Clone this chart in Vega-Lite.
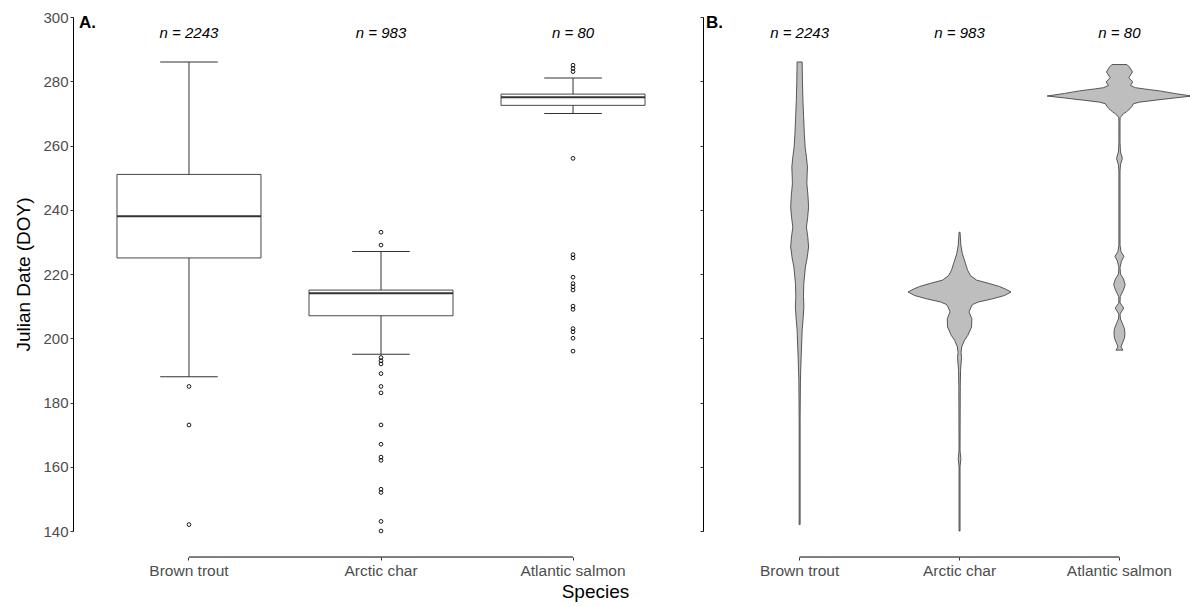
{
  "$schema": "https://vega.github.io/schema/vega-lite/v6.json",
  "padding": {"left": 14, "top": 10, "right": 0, "bottom": 0},
  "background": "white",
  "title": {"text": "Species", "orient": "bottom", "anchor": "middle", "fontSize": 19, "fontWeight": "normal", "color": "black", "offset": 4, "dx": -20, "font": "Liberation Sans"},
  "config": {"view": {"stroke": null}, "font": "Liberation Sans"},
  "spacing": 10,
  "datasets": {
    "boxes": [
      {"species": "Brown trout", "lower": 188, "q1": 225, "median": 238, "q3": 251, "upper": 286},
      {"species": "Arctic char", "lower": 195, "q1": 207, "median": 214, "q3": 215, "upper": 227},
      {"species": "Atlantic salmon", "lower": 270, "q1": 272.5, "median": 275, "q3": 276, "upper": 281}
    ],
    "outliers": [
      {"species": "Brown trout", "doy": 185}, {"species": "Brown trout", "doy": 173}, {"species": "Brown trout", "doy": 142},
      {"species": "Arctic char", "doy": 233}, {"species": "Arctic char", "doy": 229}, {"species": "Arctic char", "doy": 194},
      {"species": "Arctic char", "doy": 193}, {"species": "Arctic char", "doy": 192}, {"species": "Arctic char", "doy": 189},
      {"species": "Arctic char", "doy": 185}, {"species": "Arctic char", "doy": 183}, {"species": "Arctic char", "doy": 173},
      {"species": "Arctic char", "doy": 167}, {"species": "Arctic char", "doy": 163}, {"species": "Arctic char", "doy": 162},
      {"species": "Arctic char", "doy": 153}, {"species": "Arctic char", "doy": 152}, {"species": "Arctic char", "doy": 143},
      {"species": "Arctic char", "doy": 140},
      {"species": "Atlantic salmon", "doy": 285}, {"species": "Atlantic salmon", "doy": 284}, {"species": "Atlantic salmon", "doy": 283},
      {"species": "Atlantic salmon", "doy": 256}, {"species": "Atlantic salmon", "doy": 226}, {"species": "Atlantic salmon", "doy": 225},
      {"species": "Atlantic salmon", "doy": 219}, {"species": "Atlantic salmon", "doy": 217}, {"species": "Atlantic salmon", "doy": 216},
      {"species": "Atlantic salmon", "doy": 215}, {"species": "Atlantic salmon", "doy": 210}, {"species": "Atlantic salmon", "doy": 209},
      {"species": "Atlantic salmon", "doy": 203}, {"species": "Atlantic salmon", "doy": 202}, {"species": "Atlantic salmon", "doy": 200},
      {"species": "Atlantic salmon", "doy": 196}
    ],
    "counts": [
      {"species": "Brown trout", "label": "n = 2243"},
      {"species": "Arctic char", "label": "n = 983"},
      {"species": "Atlantic salmon", "label": "n = 80"}
    ],
    "violin": [
      {"species": "Brown trout", "doy": 142, "density": 0.007},
      {"species": "Brown trout", "doy": 175, "density": 0.007},
      {"species": "Brown trout", "doy": 187, "density": 0.011},
      {"species": "Brown trout", "doy": 194, "density": 0.021},
      {"species": "Brown trout", "doy": 202.5, "density": 0.035},
      {"species": "Brown trout", "doy": 206, "density": 0.048},
      {"species": "Brown trout", "doy": 209.7, "density": 0.059},
      {"species": "Brown trout", "doy": 213, "density": 0.053},
      {"species": "Brown trout", "doy": 217, "density": 0.058},
      {"species": "Brown trout", "doy": 222.2, "density": 0.08},
      {"species": "Brown trout", "doy": 225, "density": 0.104},
      {"species": "Brown trout", "doy": 228.4, "density": 0.124},
      {"species": "Brown trout", "doy": 231.5, "density": 0.113},
      {"species": "Brown trout", "doy": 234.6, "density": 0.094},
      {"species": "Brown trout", "doy": 237.5, "density": 0.111},
      {"species": "Brown trout", "doy": 240.9, "density": 0.124},
      {"species": "Brown trout", "doy": 244.5, "density": 0.115},
      {"species": "Brown trout", "doy": 248.1, "density": 0.1},
      {"species": "Brown trout", "doy": 251, "density": 0.104},
      {"species": "Brown trout", "doy": 253.3, "density": 0.108},
      {"species": "Brown trout", "doy": 256.5, "density": 0.094},
      {"species": "Brown trout", "doy": 259.5, "density": 0.076},
      {"species": "Brown trout", "doy": 263.7, "density": 0.065},
      {"species": "Brown trout", "doy": 269, "density": 0.055},
      {"species": "Brown trout", "doy": 274, "density": 0.046},
      {"species": "Brown trout", "doy": 280, "density": 0.039},
      {"species": "Brown trout", "doy": 286, "density": 0.035},
      {"species": "Brown trout", "doy": 286, "density": -0.035},
      {"species": "Brown trout", "doy": 280, "density": -0.039},
      {"species": "Brown trout", "doy": 274, "density": -0.046},
      {"species": "Brown trout", "doy": 269, "density": -0.055},
      {"species": "Brown trout", "doy": 263.7, "density": -0.065},
      {"species": "Brown trout", "doy": 259.5, "density": -0.076},
      {"species": "Brown trout", "doy": 256.5, "density": -0.094},
      {"species": "Brown trout", "doy": 253.3, "density": -0.108},
      {"species": "Brown trout", "doy": 251, "density": -0.104},
      {"species": "Brown trout", "doy": 248.1, "density": -0.1},
      {"species": "Brown trout", "doy": 244.5, "density": -0.115},
      {"species": "Brown trout", "doy": 240.9, "density": -0.124},
      {"species": "Brown trout", "doy": 237.5, "density": -0.111},
      {"species": "Brown trout", "doy": 234.6, "density": -0.094},
      {"species": "Brown trout", "doy": 231.5, "density": -0.113},
      {"species": "Brown trout", "doy": 228.4, "density": -0.124},
      {"species": "Brown trout", "doy": 225, "density": -0.104},
      {"species": "Brown trout", "doy": 222.2, "density": -0.08},
      {"species": "Brown trout", "doy": 217, "density": -0.058},
      {"species": "Brown trout", "doy": 213, "density": -0.053},
      {"species": "Brown trout", "doy": 209.7, "density": -0.059},
      {"species": "Brown trout", "doy": 206, "density": -0.048},
      {"species": "Brown trout", "doy": 202.5, "density": -0.035},
      {"species": "Brown trout", "doy": 194, "density": -0.021},
      {"species": "Brown trout", "doy": 187, "density": -0.011},
      {"species": "Brown trout", "doy": 175, "density": -0.007},
      {"species": "Brown trout", "doy": 142, "density": -0.007},
      {"species": "Brown trout", "doy": 142, "density": 0.007},

      {"species": "Arctic char", "doy": 140, "density": 0.007},
      {"species": "Arctic char", "doy": 160, "density": 0.007},
      {"species": "Arctic char", "doy": 162.5, "density": 0.018},
      {"species": "Arctic char", "doy": 165, "density": 0.007},
      {"species": "Arctic char", "doy": 185, "density": 0.01},
      {"species": "Arctic char", "doy": 190, "density": 0.014},
      {"species": "Arctic char", "doy": 194, "density": 0.028},
      {"species": "Arctic char", "doy": 195.5, "density": 0.021},
      {"species": "Arctic char", "doy": 197.3, "density": 0.03},
      {"species": "Arctic char", "doy": 199.4, "density": 0.069},
      {"species": "Arctic char", "doy": 200.9, "density": 0.115},
      {"species": "Arctic char", "doy": 203.5, "density": 0.166},
      {"species": "Arctic char", "doy": 206.1, "density": 0.17},
      {"species": "Arctic char", "doy": 208.2, "density": 0.131},
      {"species": "Arctic char", "doy": 209.7, "density": 0.159},
      {"species": "Arctic char", "doy": 210.5, "density": 0.18},
      {"species": "Arctic char", "doy": 211.3, "density": 0.263},
      {"species": "Arctic char", "doy": 212.2, "density": 0.443},
      {"species": "Arctic char", "doy": 213.3, "density": 0.622},
      {"species": "Arctic char", "doy": 214.4, "density": 0.712},
      {"species": "Arctic char", "doy": 215.3, "density": 0.636},
      {"species": "Arctic char", "doy": 216.1, "density": 0.553},
      {"species": "Arctic char", "doy": 217.1, "density": 0.401},
      {"species": "Arctic char", "doy": 218.1, "density": 0.235},
      {"species": "Arctic char", "doy": 219.5, "density": 0.152},
      {"species": "Arctic char", "doy": 221.2, "density": 0.111},
      {"species": "Arctic char", "doy": 223.2, "density": 0.083},
      {"species": "Arctic char", "doy": 226.3, "density": 0.039},
      {"species": "Arctic char", "doy": 229, "density": 0.018},
      {"species": "Arctic char", "doy": 233, "density": 0.007},
      {"species": "Arctic char", "doy": 233, "density": -0.007},
      {"species": "Arctic char", "doy": 229, "density": -0.018},
      {"species": "Arctic char", "doy": 226.3, "density": -0.039},
      {"species": "Arctic char", "doy": 223.2, "density": -0.083},
      {"species": "Arctic char", "doy": 221.2, "density": -0.111},
      {"species": "Arctic char", "doy": 219.5, "density": -0.152},
      {"species": "Arctic char", "doy": 218.1, "density": -0.235},
      {"species": "Arctic char", "doy": 217.1, "density": -0.401},
      {"species": "Arctic char", "doy": 216.1, "density": -0.553},
      {"species": "Arctic char", "doy": 215.3, "density": -0.636},
      {"species": "Arctic char", "doy": 214.4, "density": -0.712},
      {"species": "Arctic char", "doy": 213.3, "density": -0.622},
      {"species": "Arctic char", "doy": 212.2, "density": -0.443},
      {"species": "Arctic char", "doy": 211.3, "density": -0.263},
      {"species": "Arctic char", "doy": 210.5, "density": -0.18},
      {"species": "Arctic char", "doy": 209.7, "density": -0.159},
      {"species": "Arctic char", "doy": 208.2, "density": -0.131},
      {"species": "Arctic char", "doy": 206.1, "density": -0.17},
      {"species": "Arctic char", "doy": 203.5, "density": -0.166},
      {"species": "Arctic char", "doy": 200.9, "density": -0.115},
      {"species": "Arctic char", "doy": 199.4, "density": -0.069},
      {"species": "Arctic char", "doy": 197.3, "density": -0.03},
      {"species": "Arctic char", "doy": 195.5, "density": -0.021},
      {"species": "Arctic char", "doy": 194, "density": -0.028},
      {"species": "Arctic char", "doy": 190, "density": -0.014},
      {"species": "Arctic char", "doy": 185, "density": -0.01},
      {"species": "Arctic char", "doy": 165, "density": -0.007},
      {"species": "Arctic char", "doy": 162.5, "density": -0.018},
      {"species": "Arctic char", "doy": 160, "density": -0.007},
      {"species": "Arctic char", "doy": 140, "density": -0.007},
      {"species": "Arctic char", "doy": 140, "density": 0.007},

      {"species": "Atlantic salmon", "doy": 196.3, "density": 0.048},
      {"species": "Atlantic salmon", "doy": 197.3, "density": 0.021},
      {"species": "Atlantic salmon", "doy": 198.5, "density": 0.041},
      {"species": "Atlantic salmon", "doy": 200, "density": 0.069},
      {"species": "Atlantic salmon", "doy": 201.5, "density": 0.076},
      {"species": "Atlantic salmon", "doy": 203, "density": 0.069},
      {"species": "Atlantic salmon", "doy": 204.6, "density": 0.041},
      {"species": "Atlantic salmon", "doy": 206, "density": 0.014},
      {"species": "Atlantic salmon", "doy": 207.5, "density": 0.008},
      {"species": "Atlantic salmon", "doy": 209.4, "density": 0.059},
      {"species": "Atlantic salmon", "doy": 211, "density": 0.008},
      {"species": "Atlantic salmon", "doy": 213, "density": 0.011},
      {"species": "Atlantic salmon", "doy": 215, "density": 0.055},
      {"species": "Atlantic salmon", "doy": 216.7, "density": 0.08},
      {"species": "Atlantic salmon", "doy": 218.5, "density": 0.055},
      {"species": "Atlantic salmon", "doy": 220, "density": 0.014},
      {"species": "Atlantic salmon", "doy": 222, "density": 0.008},
      {"species": "Atlantic salmon", "doy": 224, "density": 0.028},
      {"species": "Atlantic salmon", "doy": 225.5, "density": 0.062},
      {"species": "Atlantic salmon", "doy": 227, "density": 0.021},
      {"species": "Atlantic salmon", "doy": 229, "density": 0.008},
      {"species": "Atlantic salmon", "doy": 252, "density": 0.008},
      {"species": "Atlantic salmon", "doy": 254, "density": 0.014},
      {"species": "Atlantic salmon", "doy": 256, "density": 0.041},
      {"species": "Atlantic salmon", "doy": 258, "density": 0.014},
      {"species": "Atlantic salmon", "doy": 261, "density": 0.008},
      {"species": "Atlantic salmon", "doy": 267.5, "density": 0.008},
      {"species": "Atlantic salmon", "doy": 268.7, "density": 0.01},
      {"species": "Atlantic salmon", "doy": 269.9, "density": 0.055},
      {"species": "Atlantic salmon", "doy": 270.5, "density": 0.097},
      {"species": "Atlantic salmon", "doy": 271.5, "density": 0.148},
      {"species": "Atlantic salmon", "doy": 272.2, "density": 0.173},
      {"species": "Atlantic salmon", "doy": 273, "density": 0.194},
      {"species": "Atlantic salmon", "doy": 273.5, "density": 0.277},
      {"species": "Atlantic salmon", "doy": 274.1, "density": 0.494},
      {"species": "Atlantic salmon", "doy": 274.8, "density": 0.761},
      {"species": "Atlantic salmon", "doy": 275.4, "density": 1.0},
      {"species": "Atlantic salmon", "doy": 276.2, "density": 0.761},
      {"species": "Atlantic salmon", "doy": 277, "density": 0.553},
      {"species": "Atlantic salmon", "doy": 277.6, "density": 0.346},
      {"species": "Atlantic salmon", "doy": 278, "density": 0.221},
      {"species": "Atlantic salmon", "doy": 278.7, "density": 0.152},
      {"species": "Atlantic salmon", "doy": 279.8, "density": 0.184},
      {"species": "Atlantic salmon", "doy": 281.1, "density": 0.129},
      {"species": "Atlantic salmon", "doy": 282.9, "density": 0.18},
      {"species": "Atlantic salmon", "doy": 284.4, "density": 0.138},
      {"species": "Atlantic salmon", "doy": 285.2, "density": 0.104},
      {"species": "Atlantic salmon", "doy": 285.2, "density": -0.104},
      {"species": "Atlantic salmon", "doy": 284.4, "density": -0.138},
      {"species": "Atlantic salmon", "doy": 282.9, "density": -0.18},
      {"species": "Atlantic salmon", "doy": 281.1, "density": -0.129},
      {"species": "Atlantic salmon", "doy": 279.8, "density": -0.184},
      {"species": "Atlantic salmon", "doy": 278.7, "density": -0.152},
      {"species": "Atlantic salmon", "doy": 278, "density": -0.221},
      {"species": "Atlantic salmon", "doy": 277.6, "density": -0.346},
      {"species": "Atlantic salmon", "doy": 277, "density": -0.553},
      {"species": "Atlantic salmon", "doy": 276.2, "density": -0.761},
      {"species": "Atlantic salmon", "doy": 275.4, "density": -1.0},
      {"species": "Atlantic salmon", "doy": 274.8, "density": -0.761},
      {"species": "Atlantic salmon", "doy": 274.1, "density": -0.494},
      {"species": "Atlantic salmon", "doy": 273.5, "density": -0.277},
      {"species": "Atlantic salmon", "doy": 273, "density": -0.194},
      {"species": "Atlantic salmon", "doy": 272.2, "density": -0.173},
      {"species": "Atlantic salmon", "doy": 271.5, "density": -0.148},
      {"species": "Atlantic salmon", "doy": 270.5, "density": -0.097},
      {"species": "Atlantic salmon", "doy": 269.9, "density": -0.055},
      {"species": "Atlantic salmon", "doy": 268.7, "density": -0.01},
      {"species": "Atlantic salmon", "doy": 267.5, "density": -0.008},
      {"species": "Atlantic salmon", "doy": 261, "density": -0.008},
      {"species": "Atlantic salmon", "doy": 258, "density": -0.014},
      {"species": "Atlantic salmon", "doy": 256, "density": -0.041},
      {"species": "Atlantic salmon", "doy": 254, "density": -0.014},
      {"species": "Atlantic salmon", "doy": 252, "density": -0.008},
      {"species": "Atlantic salmon", "doy": 229, "density": -0.008},
      {"species": "Atlantic salmon", "doy": 227, "density": -0.021},
      {"species": "Atlantic salmon", "doy": 225.5, "density": -0.062},
      {"species": "Atlantic salmon", "doy": 224, "density": -0.028},
      {"species": "Atlantic salmon", "doy": 222, "density": -0.008},
      {"species": "Atlantic salmon", "doy": 220, "density": -0.014},
      {"species": "Atlantic salmon", "doy": 218.5, "density": -0.055},
      {"species": "Atlantic salmon", "doy": 216.7, "density": -0.08},
      {"species": "Atlantic salmon", "doy": 215, "density": -0.055},
      {"species": "Atlantic salmon", "doy": 213, "density": -0.011},
      {"species": "Atlantic salmon", "doy": 211, "density": -0.008},
      {"species": "Atlantic salmon", "doy": 209.4, "density": -0.059},
      {"species": "Atlantic salmon", "doy": 207.5, "density": -0.008},
      {"species": "Atlantic salmon", "doy": 206, "density": -0.014},
      {"species": "Atlantic salmon", "doy": 204.6, "density": -0.041},
      {"species": "Atlantic salmon", "doy": 203, "density": -0.069},
      {"species": "Atlantic salmon", "doy": 201.5, "density": -0.076},
      {"species": "Atlantic salmon", "doy": 200, "density": -0.069},
      {"species": "Atlantic salmon", "doy": 198.5, "density": -0.041},
      {"species": "Atlantic salmon", "doy": 197.3, "density": -0.021},
      {"species": "Atlantic salmon", "doy": 196.3, "density": -0.048},
      {"species": "Atlantic salmon", "doy": 196.3, "density": 0.048}
    ]
  },
  "hconcat": [
    {
      "width": 616,
      "height": 514,
      "title": {"text": "A.", "anchor": "start", "frame": "group", "orient": "top", "offset": -35, "dx": 6, "fontSize": 17, "fontWeight": "bold", "baseline": "alphabetic", "color": "black"},
      "layer": [
        {
          "data": {"name": "boxes"},
          "mark": {"type": "rule", "color": "#333333", "strokeWidth": 1},
          "encoding": {
            "x": {"field": "species", "type": "nominal", "sort": ["Brown trout", "Arctic char", "Atlantic salmon"],
              "scale": {"domain": ["Brown trout", "Arctic char", "Atlantic salmon"], "paddingInner": 0, "paddingOuter": 0.104},
              "axis": {"title": null, "domain": false, "ticks": true, "tickSize": 3, "tickColor": "#333333", "labelFontSize": 15.5, "labelColor": "#4D4D4D", "labelPadding": 3, "offset": 26, "labelAngle": 0, "grid": false}},
            "y": {"field": "lower", "type": "quantitative",
              "scale": {"domain": [140, 300], "nice": false, "zero": false},
              "axis": {"values": [140, 160, 180, 200, 220, 240, 260, 280, 300], "title": "Julian Date (DOY)", "titleFontSize": 19, "titleFontWeight": "normal", "titleColor": "black", "titlePadding": 9, "labelFontSize": 15, "labelColor": "#4D4D4D", "labelPadding": 2, "tickSize": 3, "tickColor": "#333333", "domainColor": "black", "domainWidth": 1, "grid": false}},
            "y2": {"field": "upper"}
          }
        },
        {
          "data": {"name": "boxes"},
          "mark": {"type": "bar", "size": 144, "fill": "white", "stroke": "#333333", "strokeWidth": 0.9},
          "encoding": {
            "x": {"field": "species", "type": "nominal"},
            "y": {"field": "q1", "type": "quantitative"},
            "y2": {"field": "q3"}
          }
        },
        {
          "data": {"name": "boxes"},
          "mark": {"type": "tick", "size": 144, "thickness": 2, "color": "#333333", "opacity": 1},
          "encoding": {
            "x": {"field": "species", "type": "nominal"},
            "y": {"field": "median", "type": "quantitative"}
          }
        },
        {
          "data": {"name": "boxes"},
          "mark": {"type": "tick", "size": 57.6, "thickness": 1, "color": "#333333", "opacity": 1},
          "encoding": {
            "x": {"field": "species", "type": "nominal"},
            "y": {"field": "upper", "type": "quantitative"}
          }
        },
        {
          "data": {"name": "boxes"},
          "mark": {"type": "tick", "size": 57.6, "thickness": 1, "color": "#333333", "opacity": 1},
          "encoding": {
            "x": {"field": "species", "type": "nominal"},
            "y": {"field": "lower", "type": "quantitative"}
          }
        },
        {
          "data": {"name": "outliers"},
          "mark": {"type": "point", "shape": "circle", "filled": false, "size": 14, "strokeWidth": 0.9, "color": "black", "opacity": 1},
          "encoding": {
            "x": {"field": "species", "type": "nominal"},
            "y": {"field": "doy", "type": "quantitative"}
          }
        },
        {
          "data": {"name": "counts"},
          "mark": {"type": "text", "fontStyle": "italic", "fontSize": 15, "color": "black"},
          "encoding": {
            "x": {"field": "species", "type": "nominal"},
            "y": {"datum": 295, "type": "quantitative"},
            "text": {"field": "label"}
          }
        },
        {
          "data": {"values": [{}]},
          "mark": {"type": "rule", "color": "black", "strokeWidth": 1},
          "encoding": {
            "x": {"datum": "Brown trout", "type": "nominal"},
            "x2": {"datum": "Atlantic salmon"},
            "y": {"datum": 131.9, "type": "quantitative"}
          }
        }
      ]
    },
    {
      "width": 513,
      "height": 514,
      "title": {"text": "B.", "anchor": "start", "frame": "group", "orient": "top", "offset": -28, "dx": 3, "fontSize": 17, "fontWeight": "bold", "baseline": "alphabetic", "color": "black"},
      "layer": [
        {
          "data": {"name": "violin"},
          "mark": {"type": "line", "fill": "#BEBEBE", "stroke": "#333333", "strokeWidth": 0.8, "interpolate": "linear"},
          "encoding": {
            "x": {"field": "species", "type": "nominal", "sort": ["Brown trout", "Arctic char", "Atlantic salmon"],
              "scale": {"domain": ["Brown trout", "Arctic char", "Atlantic salmon"], "paddingInner": 0, "paddingOuter": 0.104},
              "axis": {"title": null, "domain": false, "ticks": true, "tickSize": 3, "tickColor": "#333333", "labelFontSize": 15.5, "labelColor": "#4D4D4D", "labelPadding": 3, "offset": 26, "labelAngle": 0, "grid": false}},
            "xOffset": {"field": "density", "type": "quantitative", "scale": {"domain": [-1, 1], "range": [7.7, 152.3]}},
            "y": {"field": "doy", "type": "quantitative",
              "scale": {"domain": [140, 300], "nice": false, "zero": false},
              "axis": {"values": [140, 160, 180, 200, 220, 240, 260, 280, 300], "title": null, "labels": false, "tickSize": 3, "tickColor": "#333333", "domainColor": "black", "domainWidth": 1, "grid": false}},
            "detail": {"field": "species"},
            "order": {"value": null}
          }
        },
        {
          "data": {"name": "counts"},
          "mark": {"type": "text", "fontStyle": "italic", "fontSize": 15, "color": "black"},
          "encoding": {
            "x": {"field": "species", "type": "nominal"},
            "y": {"datum": 295, "type": "quantitative"},
            "text": {"field": "label"}
          }
        },
        {
          "data": {"values": [{}]},
          "mark": {"type": "rule", "color": "black", "strokeWidth": 1},
          "encoding": {
            "x": {"datum": "Brown trout", "type": "nominal"},
            "x2": {"datum": "Atlantic salmon"},
            "y": {"datum": 131.9, "type": "quantitative"}
          }
        }
      ]
    }
  ]
}
